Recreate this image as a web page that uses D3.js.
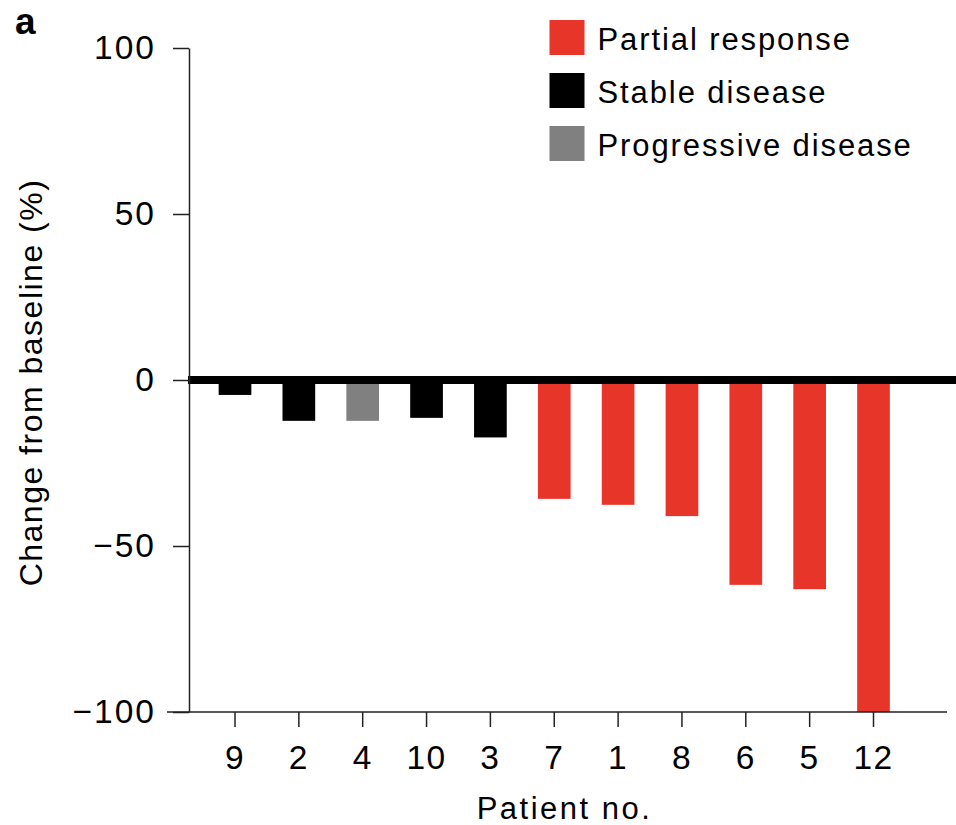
<!DOCTYPE html>
<html>
<head>
<meta charset="utf-8">
<script src="https://cdn.jsdelivr.net/npm/d3@7/dist/d3.min.js"></script>
<style>
  html, body { margin: 0; padding: 0; background: #fff; }
  svg { display: block; }
  text { font-family: "Liberation Sans", Arial, Helvetica, sans-serif; fill: #000; }
</style>
</head>
<body>
<svg id="chart" width="956" height="825"></svg>
<script>
// Best change in tumour size per patient, ordered as on the x axis
const patients = ["9", "2", "4", "10", "3", "7", "1", "8", "6", "5", "12"];
const changes  = [-4.5, -12.3, -12.3, -11.4, -17.3, -35.8, -37.6, -41.0, -61.7, -63.0, -100];
const responses = ["SD", "SD", "PD", "SD", "SD", "PR", "PR", "PR", "PR", "PR", "PR"];

const responseKeys   = ["PR", "SD", "PD"];
const responseLabels = ["Partial response", "Stable disease", "Progressive disease"];
const responseColors = ["#e8352a", "#000000", "#808080"];
const yTicks = [100, 50, 0, -50, -100];

const svg = d3.select("#chart");

const color = d3.scaleOrdinal().domain(responseKeys).range(responseColors);

const y = d3.scaleLinear().domain([-100, 100]).range([712, 48]);

const step = 63.85;
const x = d3.scaleBand()
  .domain(patients)
  .range([235 - step / 2, 873.5 + step / 2])
  .paddingInner(0.488)
  .paddingOuter(0.244);

const axisX0 = 189;

// bars
const rows = patients.map((p, i) => ({ p, v: changes[i], r: responses[i] }));
svg.append("g").selectAll("rect")
  .data(rows)
  .join("rect")
  .attr("x", d => x(d.p))
  .attr("width", x.bandwidth())
  .attr("y", y(0))
  .attr("height", d => y(d.v) - y(0))
  .attr("fill", d => color(d.r));

// heavy zero reference line
svg.append("line")
  .attr("x1", axisX0 - 1).attr("x2", 956)
  .attr("y1", y(0)).attr("y2", y(0))
  .attr("stroke", "#000").attr("stroke-width", 8);

// y axis
const fmt = v => (v < 0 ? "\u2212" + Math.abs(v) : String(v));
const gy = svg.append("g")
  .attr("transform", `translate(${axisX0},0)`)
  .call(d3.axisLeft(y).tickValues(yTicks).tickFormat(fmt).tickSize(16).tickSizeOuter(0).tickPadding(17));
gy.select(".domain").attr("stroke", "#222").attr("stroke-width", 1.5);
gy.selectAll(".tick line").attr("stroke", "#222").attr("stroke-width", 1.5);
gy.selectAll(".tick text")
  .style("font-size", "33.5px")
  .style("letter-spacing", "2px")
  .attr("fill", "#000");

// x axis
const gx = svg.append("g")
  .attr("transform", `translate(0,${y(-100)})`)
  .call(d3.axisBottom(x).tickSize(15).tickSizeOuter(0).tickPadding(18.5));
gx.select(".domain").remove();
gx.append("line")
  .attr("x1", 167).attr("x2", 947)
  .attr("y1", 0).attr("y2", 0)
  .attr("stroke", "#222").attr("stroke-width", 1.5);
gx.selectAll(".tick line").attr("stroke", "#222").attr("stroke-width", 1.5);
gx.selectAll(".tick text")
  .style("font-size", "33.5px")
  .style("letter-spacing", "1.5px")
  .attr("fill", "#000");

// axis titles
svg.append("text")
  .attr("transform", "translate(41.5,382.5) rotate(-90)")
  .attr("text-anchor", "middle")
  .style("font-size", "32px")
  .style("letter-spacing", "1.5px")
  .text("Change from baseline (%)");

svg.append("text")
  .attr("x", 564.5).attr("y", 819)
  .attr("text-anchor", "middle")
  .style("font-size", "31px")
  .style("letter-spacing", "2.5px")
  .text("Patient no.");

// panel label
svg.append("text")
  .attr("x", 15).attr("y", 33.5)
  .style("font-size", "37px")
  .style("font-weight", "bold")
  .text("a");

// legend
const legend = svg.append("g").selectAll("g")
  .data(responseKeys)
  .join("g")
  .attr("transform", (d, i) => `translate(549.5,${20 + i * 53})`);
legend.append("rect")
  .attr("width", 35).attr("height", 35)
  .attr("fill", d => color(d));
legend.append("text")
  .attr("x", 48).attr("y", 30)
  .style("font-size", "31px")
  .style("letter-spacing", "1.9px")
  .text((d, i) => responseLabels[i]);
</script>
</body>
</html>
